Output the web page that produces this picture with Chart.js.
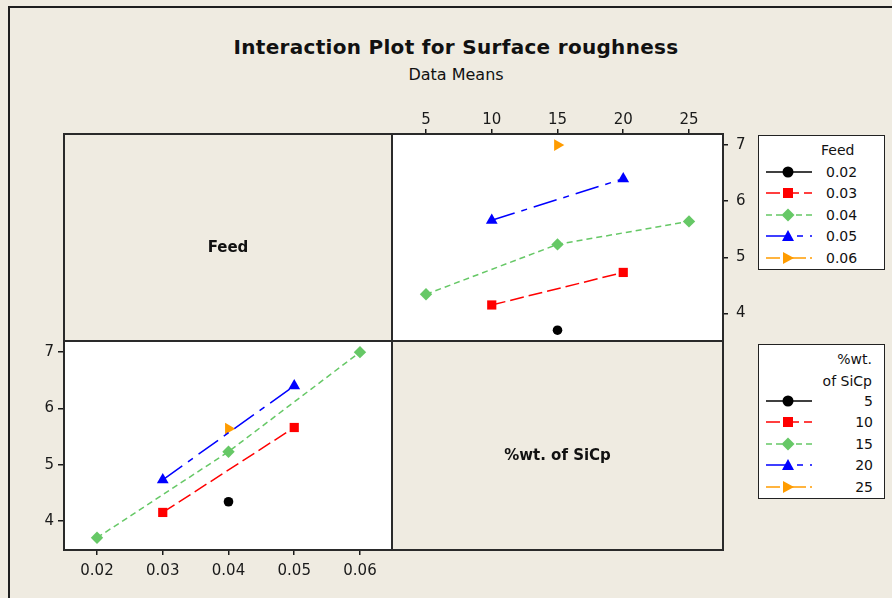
<!DOCTYPE html>
<html>
<head>
<meta charset="utf-8">
<script src="https://cdn.jsdelivr.net/npm/chart.js@4/dist/chart.umd.min.js"></script>
<style>
  body { margin: 0; }
  #page { position: relative; width: 892px; height: 598px; background: #efebe1; overflow: hidden; font-family: 'DejaVu Sans', sans-serif; color: #111; }
  .abs { position: absolute; }
  .white { background: #fff; }
  .legend { position: absolute; background: #fff; border: 1px solid #222; box-sizing: border-box; }
  .lrow { position: absolute; left: 0; width: 126px; height: 20px; }
  .lrow svg { position: absolute; left: 5px; top: 0; }
  .lrow span { position: absolute; font-size: 14px; top: 2px; }
</style>
</head>
<body>
<div id="page">
  <div class="abs" style="left:8px;top:6px;width:900px;height:600px;border-left:2px solid #1e1e1e;border-top:2px solid #1e1e1e;"></div>
  <div class="abs" style="left:0;width:912px;top:35px;text-align:center;font-size:20px;font-weight:bold;letter-spacing:0.3px;">Interaction Plot for Surface roughness</div>
  <div class="abs" style="left:0;width:912px;top:65px;text-align:center;font-size:16px;">Data Means</div>

  <div class="abs white" style="left:393px;top:135px;width:329px;height:207px;"></div>
  <div class="abs white" style="left:64px;top:342px;width:328px;height:207px;"></div>

  <div class="abs" style="left:360px;top:95px;"><canvas id="feedChart" width="400" height="280"></canvas></div>
  <div class="abs" style="left:10px;top:310px;"><canvas id="sicpChart" width="400" height="280"></canvas></div>

  <div class="abs" style="left:63px;top:133px;width:657px;height:414px;border:2px solid #2a2a2a;"></div>
  <div class="abs" style="left:391px;top:133px;width:2px;height:418px;background:#2a2a2a;"></div>
  <div class="abs" style="left:63px;top:340px;width:661px;height:2px;background:#2a2a2a;"></div>

  <div class="abs" style="left:64px;width:328px;top:238px;text-align:center;font-size:15px;font-weight:bold;">Feed</div>
  <div class="abs" style="left:393px;width:329px;top:446px;text-align:center;font-size:15px;font-weight:bold;">%wt. of SiCp</div>

  <div class="legend" id="feedLegend" style="left:758px;top:135px;width:127px;height:135px;"></div>
  <div class="legend" id="sicpLegend" style="left:758px;top:344px;width:127px;height:155px;"></div>
</div>
<script>
// factor levels
const feedLevels = [0.02, 0.03, 0.04, 0.05, 0.06];
const sicpLevels = [5, 10, 15, 20, 25];

// mean surface roughness, one row per feed level, columns follow sicpLevels (null = no run)
const feed002 = [null, null, 3.70, null, null];
const feed003 = [null, 4.15, null, 4.73, null];
const feed004 = [4.34, null, 5.23, null, 5.64];
const feed005 = [null, 5.66, null, 6.40, null];
const feed006 = [null, null, 7.00, null, null];
const means = [feed002, feed003, feed004, feed005, feed006];

const yTicks = [4, 5, 6, 7];

// one look per level (shared by both panels)
const colors = ['#000000', '#ff0000', '#66c866', '#0000ff', '#ff9c00'];
const dashes = [[], [14, 5], [6, 4], [24, 7, 6, 7], [14, 4, 4, 4]];
const shapes = ['circle', 'rect', 'rectRot', 'triangle', 'triangle'];
const radii = [4.8, 6.5, 6.2, 6.8, 6.8];
const rotations = [0, 0, 0, 0, 90];

const ink = '#1a1a1a';
const tickFont = { family: 'DejaVu Sans', size: 15 };

function makeDataset(i, points, label) {
  return {
    label: label,
    data: points,
    showLine: true,
    borderColor: colors[i],
    backgroundColor: colors[i],
    borderWidth: 1.5,
    borderDash: dashes[i],
    pointStyle: shapes[i],
    pointRadius: radii[i],
    pointRotation: rotations[i],
    pointBorderWidth: 0,
  };
}

function axis(pos, min, max, values, size, pad, fmt) {
  return {
    type: 'linear',
    position: pos,
    min: min,
    max: max,
    afterBuildTicks: (s) => { s.ticks = values.map((v) => ({ value: v })); },
    afterFit: (s) => {
      if (pos === 'top' || pos === 'bottom') s.height = size; else s.width = size;
    },
    border: { display: false },
    grid: { drawOnChartArea: false, drawTicks: true, tickLength: 6, color: ink, lineWidth: 1.5 },
    ticks: { color: ink, font: tickFont, padding: pad, maxRotation: 0, autoSkip: false, callback: fmt },
  };
}

const baseOptions = {
  responsive: false,
  animation: false,
  devicePixelRatio: 1,
  plugins: { legend: { display: false }, tooltip: { enabled: false } },
};

// top-right panel: x = %wt. of SiCp, one line per Feed level
const feedSets = means.map((row, i) => makeDataset(i,
  sicpLevels.map((x, j) => ({ x: x, y: row[j] })).filter((p) => p.y !== null),
  feedLevels[i].toFixed(2)));

new Chart(document.getElementById('feedChart'), {
  type: 'scatter',
  data: { datasets: feedSets },
  options: Object.assign({}, baseOptions, {
    layout: { padding: { left: 33, top: 0, right: 0, bottom: 33 } },
    scales: {
      x: axis('top', 2.49, 27.51, sicpLevels, 40, 0, (v) => String(v)),
      y: axis('right', 3.49, 7.18, yTicks, 38, 8, (v) => String(v)),
    },
  }),
});

// bottom-left panel: x = Feed, one line per %wt. of SiCp level
const sicpSets = sicpLevels.map((w, j) => makeDataset(j,
  feedLevels.map((x, i) => ({ x: x, y: means[i][j] })).filter((p) => p.y !== null),
  String(w)));

new Chart(document.getElementById('sicpChart'), {
  type: 'scatter',
  data: { datasets: sicpSets },
  options: Object.assign({}, baseOptions, {
    layout: { padding: { left: 0, top: 32, right: 18, bottom: 0 } },
    scales: {
      x: axis('bottom', 0.01498, 0.06487, feedLevels, 41, 7, (v) => v.toFixed(2)),
      y: axis('left', 3.5, 7.18, yTicks, 54, 4, (v) => String(v)),
    },
  }),
});

// legends
function markerSvg(i, cx, cy) {
  const c = colors[i];
  if (shapes[i] === 'circle') return `<circle cx="${cx}" cy="${cy}" r="5.5" fill="${c}"/>`;
  if (shapes[i] === 'rect') return `<rect x="${cx - 5}" y="${cy - 5}" width="10" height="10" fill="${c}"/>`;
  if (shapes[i] === 'rectRot') return `<polygon points="${cx},${cy - 6.5} ${cx + 6.5},${cy} ${cx},${cy + 6.5} ${cx - 6.5},${cy}" fill="${c}"/>`;
  if (rotations[i] === 90) return `<polygon points="${cx - 5},${cy - 6} ${cx + 6},${cy} ${cx - 5},${cy + 6}" fill="${c}"/>`;
  return `<polygon points="${cx},${cy - 6} ${cx + 6},${cy + 5} ${cx - 6},${cy + 5}" fill="${c}"/>`;
}

function buildLegend(el, titleLines, labels, firstRow, alignRight) {
  let html = '';
  titleLines.forEach((t, k) => {
    html += `<div style="position:absolute;top:${6 + k * 22}px;${alignRight ? 'right:12px' : 'left:62px'};font-size:14px;">${t}</div>`;
  });
  labels.forEach((lab, i) => {
    const top = firstRow + i * 21.4;
    const dash = dashes[i].length ? `stroke-dasharray="${dashes[i].join(' ')}"` : '';
    html += `<div class="lrow" style="top:${top}px;">` +
      `<svg width="52" height="20"><line x1="2" y1="10" x2="48" y2="10" stroke="${colors[i]}" stroke-width="1.6" ${dash}/>` +
      markerSvg(i, 24, 10) + `</svg>` +
      `<span style="${alignRight ? 'right:12px' : 'left:67px'}">${lab}</span></div>`;
  });
  el.innerHTML = html;
}

buildLegend(document.getElementById('feedLegend'), ['Feed'], feedLevels.map((f) => f.toFixed(2)), 26, false);
buildLegend(document.getElementById('sicpLegend'), ['%wt.', 'of SiCp'], sicpLevels.map(String), 46, true);
</script>
</body>
</html>
